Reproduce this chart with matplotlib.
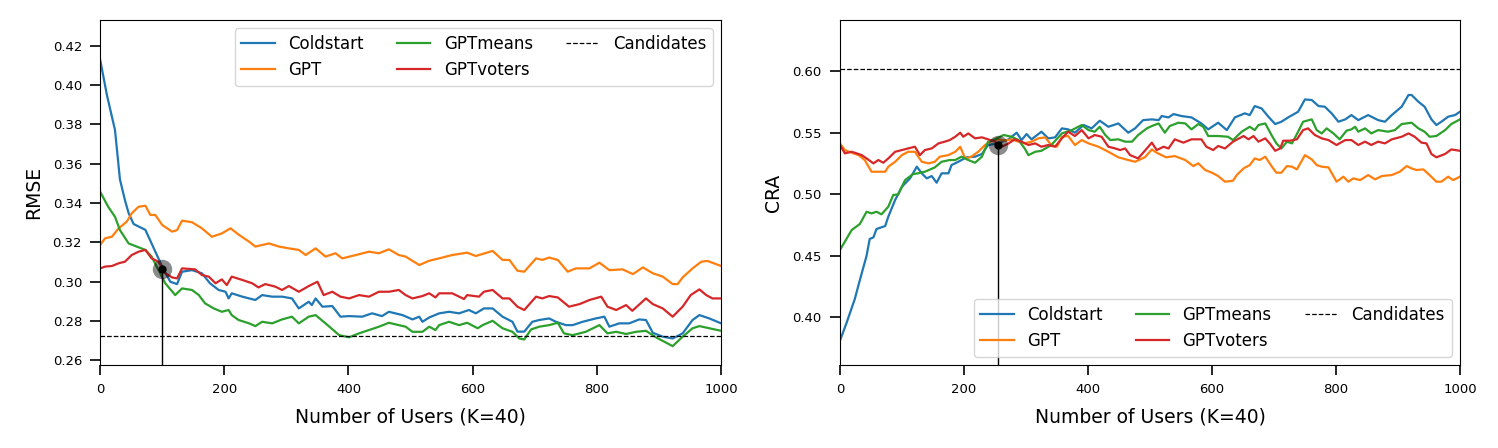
import numpy as np
import matplotlib.pyplot as plt

# ---- RMSE panel (left) ----
rmse_cold_x = [0, 11, 24, 32, 40, 46, 54, 73, 89, 100, 113, 124, 132, 148, 164, 177, 191, 202, 207, 212,
               229, 250, 261, 277, 293, 309, 320, 336, 341, 347, 358, 374, 387, 401, 422, 438, 454, 465,
               487, 503, 514, 519, 530, 546, 562, 578, 594, 605, 618, 632, 648, 664, 672, 683, 696, 707,
               723, 734, 750, 761, 777, 798, 812, 820, 836, 852, 868, 879, 890, 906, 922, 938, 954, 965,
               981, 1000]
rmse_cold_y = [0.4132, 0.3950, 0.3772, 0.3520, 0.3415, 0.3348, 0.3293, 0.3263, 0.3152, 0.3076, 0.2999,
               0.2987, 0.3050, 0.3058, 0.3042, 0.2991, 0.2957, 0.2948, 0.2914, 0.2940, 0.2923, 0.2906,
               0.2931, 0.2923, 0.2923, 0.2914, 0.2863, 0.2897, 0.2880, 0.2914, 0.2872, 0.2875, 0.2821,
               0.2824, 0.2821, 0.2838, 0.2824, 0.2846, 0.2829, 0.2807, 0.2821, 0.2795, 0.2817, 0.2838,
               0.2846, 0.2838, 0.2855, 0.2838, 0.2863, 0.2863, 0.2821, 0.2795, 0.2745, 0.2745, 0.2795,
               0.2804, 0.2812, 0.2795, 0.2778, 0.2778, 0.2795, 0.2812, 0.2821, 0.2770, 0.2787, 0.2787,
               0.2807, 0.2804, 0.2739, 0.2719, 0.2710, 0.2736, 0.2804, 0.2829, 0.2812, 0.2787]

rmse_gpt_x = [0, 8, 19, 30, 43, 51, 62, 73, 81, 89, 100, 116, 124, 132, 148, 164, 180, 196, 210, 224,
              240, 250, 272, 288, 304, 320, 331, 347, 363, 379, 390, 412, 433, 449, 465, 481, 492, 514,
              530, 546, 567, 591, 605, 632, 648, 659, 672, 683, 702, 712, 723, 737, 753, 766, 788, 804,
              820, 841, 858, 874, 890, 906, 922, 930, 938, 954, 968, 978, 1000]
rmse_gpt_y = [0.3186, 0.3220, 0.3228, 0.3271, 0.3305, 0.3347, 0.3381, 0.3386, 0.3339, 0.3339, 0.3288,
              0.3254, 0.3262, 0.3310, 0.3302, 0.3271, 0.3228, 0.3245, 0.3271, 0.3237, 0.3203, 0.3178,
              0.3194, 0.3178, 0.3169, 0.3161, 0.3135, 0.3169, 0.3127, 0.3144, 0.3118, 0.3135, 0.3152,
              0.3144, 0.3164, 0.3135, 0.3127, 0.3084, 0.3106, 0.3118, 0.3135, 0.3147, 0.3130, 0.3156,
              0.3110, 0.3110, 0.3055, 0.3050, 0.3118, 0.3110, 0.3122, 0.3110, 0.3050, 0.3067, 0.3067,
              0.3096, 0.3058, 0.3062, 0.3038, 0.3072, 0.3042, 0.3025, 0.2987, 0.2987, 0.3021, 0.3067,
              0.3101, 0.3105, 0.3079]

rmse_means_x = [0, 13, 24, 32, 46, 59, 73, 83, 94, 105, 121, 132, 148, 159, 169, 183, 196, 207, 212, 223,
                240, 250, 261, 277, 293, 309, 320, 336, 347, 363, 385, 401, 417, 433, 449, 465, 481, 492,
                503, 519, 530, 540, 546, 562, 578, 591, 608, 616, 632, 648, 664, 675, 683, 694, 707, 723,
                737, 747, 761, 782, 804, 817, 831, 847, 863, 879, 895, 922, 938, 954, 965, 981, 1000]
rmse_means_y = [0.3458, 0.3381, 0.3330, 0.3262, 0.3194, 0.3178, 0.3161, 0.3127, 0.3059, 0.2991, 0.2931,
                0.2965, 0.2957, 0.2931, 0.2889, 0.2863, 0.2846, 0.2855, 0.2829, 0.2804, 0.2787, 0.2773,
                0.2795, 0.2787, 0.2807, 0.2821, 0.2787, 0.2821, 0.2829, 0.2787, 0.2727, 0.2716, 0.2736,
                0.2753, 0.2770, 0.2790, 0.2778, 0.2770, 0.2744, 0.2744, 0.2770, 0.2753, 0.2778, 0.2795,
                0.2778, 0.2790, 0.2762, 0.2778, 0.2800, 0.2762, 0.2744, 0.2710, 0.2705, 0.2756, 0.2770,
                0.2778, 0.2790, 0.2736, 0.2727, 0.2744, 0.2778, 0.2736, 0.2744, 0.2733, 0.2744, 0.2749,
                0.2716, 0.2671, 0.2719, 0.2762, 0.2773, 0.2762, 0.2749]

rmse_voters_x = [0, 8, 19, 30, 40, 51, 62, 73, 83, 94, 105, 116, 124, 132, 153, 164, 175, 186, 196, 204,
                 212, 229, 245, 255, 266, 282, 293, 304, 320, 336, 350, 360, 374, 387, 401, 417, 433, 449,
                 465, 481, 492, 503, 519, 530, 540, 546, 567, 586, 591, 610, 618, 632, 648, 659, 672, 683,
                 702, 712, 723, 737, 755, 772, 788, 807, 817, 831, 847, 857, 879, 890, 906, 922, 938, 951,
                 965, 976, 986, 1000]
rmse_voters_y = [0.3067, 0.3076, 0.3079, 0.3093, 0.3101, 0.3135, 0.3152, 0.3161, 0.3118, 0.3101, 0.3042,
                 0.3021, 0.3016, 0.3067, 0.3062, 0.3033, 0.3025, 0.2991, 0.3011, 0.2982, 0.3025, 0.3008,
                 0.2991, 0.2970, 0.2987, 0.2974, 0.2957, 0.2977, 0.2948, 0.2977, 0.2999, 0.2931, 0.2948,
                 0.2923, 0.2914, 0.2931, 0.2923, 0.2948, 0.2948, 0.2957, 0.2931, 0.2914, 0.2926, 0.2940,
                 0.2919, 0.2940, 0.2940, 0.2911, 0.2931, 0.2923, 0.2948, 0.2957, 0.2914, 0.2914, 0.2872,
                 0.2855, 0.2923, 0.2914, 0.2926, 0.2919, 0.2872, 0.2885, 0.2906, 0.2923, 0.2872, 0.2855,
                 0.2880, 0.2851, 0.2914, 0.2885, 0.2863, 0.2821, 0.2872, 0.2931, 0.2960, 0.2931, 0.2914,
                 0.2914]

rmse_candidates = 0.2722
rmse_pick = (100, 0.3062)

# ---- CRA panel (right) ----
cra_cold_x = [0, 11, 24, 32, 43, 48, 54, 59, 73, 78, 89, 100, 113, 124, 132, 140, 148, 156, 164, 175,
              180, 191, 204, 218, 229, 239, 255, 272, 285, 293, 301, 309, 325, 336, 347, 358, 368, 379,
              393, 406, 419, 433, 449, 465, 476, 489, 503, 514, 519, 530, 538, 551, 567, 583, 594, 610,
              624, 637, 653, 661, 669, 680, 691, 702, 712, 723, 739, 750, 761, 772, 782, 793, 804, 815,
              825, 836, 852, 868, 879, 890, 906, 917, 922, 933, 943, 954, 962, 970, 981, 992, 1000]
cra_cold_y = [0.3810, 0.3959, 0.4149, 0.4300, 0.4500, 0.4636, 0.4649, 0.4717, 0.4741, 0.4817, 0.4952,
              0.5060, 0.5128, 0.5223, 0.5169, 0.5128, 0.5147, 0.5093, 0.5169, 0.5169, 0.5236, 0.5263,
              0.5299, 0.5304, 0.5326, 0.5399, 0.5412, 0.5445, 0.5499, 0.5439, 0.5488, 0.5445, 0.5507,
              0.5453, 0.5461, 0.5534, 0.5526, 0.5499, 0.5561, 0.5534, 0.5596, 0.5547, 0.5574, 0.5499,
              0.5534, 0.5601, 0.5607, 0.5601, 0.5634, 0.5623, 0.5650, 0.5634, 0.5623, 0.5574, 0.5526,
              0.5580, 0.5520, 0.5623, 0.5656, 0.5642, 0.5715, 0.5696, 0.5629, 0.5569, 0.5588, 0.5623,
              0.5669, 0.5769, 0.5764, 0.5715, 0.5710, 0.5656, 0.5588, 0.5607, 0.5642, 0.5601, 0.5642,
              0.5601, 0.5588, 0.5642, 0.5710, 0.5805, 0.5805, 0.5750, 0.5710, 0.5607, 0.5561, 0.5588,
              0.5629, 0.5642, 0.5669]

cra_gpt_x = [0, 8, 19, 30, 40, 51, 62, 73, 78, 89, 100, 110, 121, 132, 143, 153, 161, 175, 186, 194,
             202, 212, 223, 234, 242, 255, 266, 277, 288, 298, 309, 320, 331, 341, 350, 358, 368, 379,
             390, 401, 417, 433, 449, 465, 476, 492, 503, 511, 526, 540, 557, 570, 578, 589, 600, 610,
             621, 634, 640, 651, 661, 669, 677, 686, 696, 704, 712, 721, 729, 737, 750, 761, 769, 777,
             788, 801, 812, 820, 828, 839, 852, 863, 874, 890, 903, 914, 922, 930, 941, 951, 962, 970,
             981, 989, 1000]
cra_gpt_y = [0.5412, 0.5358, 0.5336, 0.5317, 0.5277, 0.5182, 0.5182, 0.5182, 0.5223, 0.5263, 0.5317,
             0.5344, 0.5344, 0.5263, 0.5250, 0.5263, 0.5304, 0.5317, 0.5344, 0.5385, 0.5290, 0.5304,
             0.5344, 0.5399, 0.5426, 0.5445, 0.5434, 0.5445, 0.5426, 0.5412, 0.5426, 0.5453, 0.5461,
             0.5399, 0.5385, 0.5466, 0.5472, 0.5399, 0.5439, 0.5412, 0.5385, 0.5344, 0.5299, 0.5277,
             0.5263, 0.5300, 0.5363, 0.5336, 0.5299, 0.5309, 0.5277, 0.5228, 0.5250, 0.5196, 0.5174,
             0.5147, 0.5101, 0.5109, 0.5155, 0.5209, 0.5236, 0.5290, 0.5277, 0.5304, 0.5228, 0.5174,
             0.5174, 0.5228, 0.5223, 0.5201, 0.5317, 0.5282, 0.5236, 0.5223, 0.5217, 0.5101, 0.5142,
             0.5101, 0.5128, 0.5114, 0.5155, 0.5120, 0.5147, 0.5155, 0.5182, 0.5228, 0.5209, 0.5196,
             0.5201, 0.5155, 0.5101, 0.5101, 0.5142, 0.5114, 0.5142]

cra_means_x = [0, 19, 32, 43, 51, 59, 67, 78, 86, 94, 105, 118, 126, 137, 153, 164, 177, 186, 196, 207,
               218, 229, 239, 250, 264, 277, 288, 298, 304, 315, 325, 341, 358, 374, 390, 401, 411, 419,
               428, 436, 449, 460, 471, 481, 495, 503, 514, 524, 532, 546, 557, 567, 578, 586, 594, 610,
               626, 634, 648, 661, 669, 675, 686, 696, 704, 712, 721, 729, 739, 747, 761, 769, 777, 785,
               796, 806, 817, 825, 831, 836, 847, 857, 868, 884, 895, 906, 922, 933, 943, 951, 962, 976,
               986, 1000]
cra_means_y = [0.4546, 0.4709, 0.4757, 0.4857, 0.4844, 0.4857, 0.4836, 0.4898, 0.4993, 0.4998, 0.5114,
               0.5163, 0.5169, 0.5182, 0.5217, 0.5263, 0.5277, 0.5277, 0.5304, 0.5277, 0.5255, 0.5304,
               0.5426, 0.5445, 0.5480, 0.5466, 0.5439, 0.5371, 0.5317, 0.5344, 0.5352, 0.5399, 0.5493,
               0.5520, 0.5561, 0.5520, 0.5507, 0.5547, 0.5480, 0.5439, 0.5445, 0.5426, 0.5426, 0.5480,
               0.5534, 0.5553, 0.5574, 0.5499, 0.5553, 0.5580, 0.5574, 0.5526, 0.5569, 0.5547, 0.5472,
               0.5472, 0.5466, 0.5439, 0.5507, 0.5547, 0.5520, 0.5561, 0.5574, 0.5480, 0.5412, 0.5371,
               0.5426, 0.5412, 0.5507, 0.5588, 0.5607, 0.5520, 0.5493, 0.5534, 0.5493, 0.5445, 0.5515,
               0.5526, 0.5547, 0.5507, 0.5534, 0.5493, 0.5520, 0.5507, 0.5520, 0.5569, 0.5580, 0.5534,
               0.5507, 0.5466, 0.5472, 0.5520, 0.5569, 0.5607]

cra_voters_x = [0, 8, 19, 27, 35, 43, 54, 62, 70, 78, 89, 100, 110, 121, 129, 137, 148, 159, 169, 177,
                186, 194, 199, 207, 218, 229, 239, 250, 261, 272, 282, 293, 304, 315, 325, 336, 347, 358,
                368, 379, 390, 401, 411, 422, 433, 444, 452, 460, 468, 481, 495, 503, 511, 522, 530, 540,
                554, 567, 583, 591, 602, 610, 621, 634, 651, 659, 667, 675, 686, 694, 702, 710, 715, 726,
                737, 747, 755, 766, 777, 788, 801, 815, 825, 836, 847, 857, 868, 879, 890, 906, 917, 927,
                938, 946, 954, 962, 976, 986, 1000]
cra_voters_y = [0.5399, 0.5331, 0.5344, 0.5331, 0.5317, 0.5290, 0.5250, 0.5277, 0.5255, 0.5290, 0.5344,
                0.5358, 0.5371, 0.5385, 0.5317, 0.5358, 0.5371, 0.5412, 0.5426, 0.5439, 0.5466, 0.5499,
                0.5466, 0.5493, 0.5453, 0.5461, 0.5445, 0.5426, 0.5385, 0.5412, 0.5445, 0.5426, 0.5399,
                0.5412, 0.5385, 0.5399, 0.5385, 0.5453, 0.5507, 0.5472, 0.5520, 0.5453, 0.5480, 0.5466,
                0.5385, 0.5371, 0.5358, 0.5371, 0.5317, 0.5290, 0.5371, 0.5418, 0.5358, 0.5385, 0.5371,
                0.5445, 0.5418, 0.5445, 0.5445, 0.5385, 0.5358, 0.5391, 0.5371, 0.5426, 0.5472, 0.5445,
                0.5472, 0.5426, 0.5453, 0.5407, 0.5352, 0.5371, 0.5434, 0.5434, 0.5445, 0.5520, 0.5534,
                0.5480, 0.5453, 0.5439, 0.5399, 0.5439, 0.5439, 0.5399, 0.5426, 0.5399, 0.5426, 0.5412,
                0.5445, 0.5466, 0.5493, 0.5466, 0.5418, 0.5412, 0.5326, 0.5299, 0.5326, 0.5363, 0.5352]

cra_candidates = 0.6015
cra_pick = (255, 0.5395)

x_ticks = [0, 200, 400, 600, 800, 1000]
x_label = 'Number of Users (K=40)'
colors = ['#1f77b4', '#ff7f0e', '#2ca02c', '#d62728']
names = ['Coldstart', 'GPT', 'GPTmeans', 'GPTvoters']


def draw_panel(ax, series, candidates, pick, ylim, yticks, ylabel, legend_loc):
    for (xs, ys), c, name in zip(series, colors, names):
        ax.plot(xs, ys, color=c, lw=1.6, label=name)
    ax.axhline(candidates, color='black', ls='--', lw=0.9, label='Candidates')
    ax.set_xlim(0, 1000)
    ax.set_ylim(*ylim)
    # marker for the chosen point, with a drop line to the x axis
    ax.vlines(pick[0], ylim[0], pick[1], color='black', lw=1.0)
    ax.plot(pick[0], pick[1], 'o', color='black', alpha=0.45, ms=14, mew=0)
    ax.plot(pick[0], pick[1], 'o', color='black', ms=5)
    ax.set_xticks(x_ticks)
    ax.set_yticks(yticks)
    ax.tick_params(labelsize=9.5, length=7, width=1.2, pad=6)
    ax.set_xlabel(x_label, fontsize=13.5, labelpad=8)
    ax.set_ylabel(ylabel, fontsize=13.5, labelpad=7)
    ax.legend(loc=legend_loc, ncol=3, fontsize=12)


fig = plt.figure(figsize=(14.98, 4.48), dpi=100)
ax1 = fig.add_axes([0.0668, 0.1853, 0.4146, 0.7701])
ax2 = fig.add_axes([0.5607, 0.1853, 0.4139, 0.7701])

draw_panel(ax1,
           [(rmse_cold_x, rmse_cold_y), (rmse_gpt_x, rmse_gpt_y),
            (rmse_means_x, rmse_means_y), (rmse_voters_x, rmse_voters_y)],
           rmse_candidates, rmse_pick, (0.2575, 0.4332),
           np.arange(0.26, 0.4201, 0.02), 'RMSE', 'upper right')
draw_panel(ax2,
           [(cra_cold_x, cra_cold_y), (cra_gpt_x, cra_gpt_y),
            (cra_means_x, cra_means_y), (cra_voters_x, cra_voters_y)],
           cra_candidates, cra_pick, (0.3613, 0.6414),
           np.arange(0.40, 0.6001, 0.05), 'CRA', 'lower right')

fig.savefig('out.png', dpi=100)
